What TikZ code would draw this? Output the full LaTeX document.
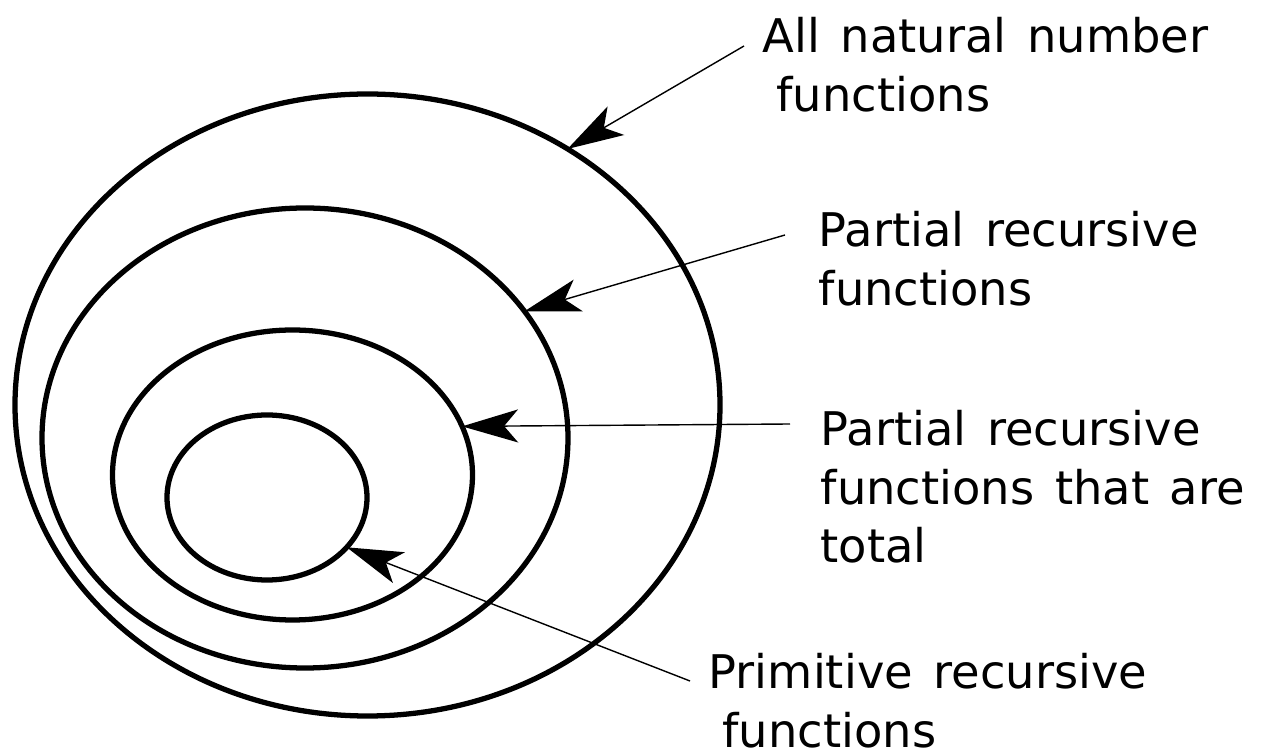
\documentclass[tikz,border=0pt]{standalone}
\usepackage{fontspec}
\setmainfont{DejaVu Sans}[WordSpace=1.4]
\usetikzlibrary{arrows.meta, positioning, shapes.geometric}

\begin{document}
\begin{tikzpicture}[
    set/.style={draw, ellipse, line width=1.5pt, inner sep=0pt, outer sep=0pt},
    note/.style={anchor=north west, align=left, inner sep=0pt,
                 font=\fontsize{13.2}{16.6}\selectfont},
    pointer/.style={-{Stealth[length=0.56cm, width=0.33cm, inset=0.14cm]},
                    line width=0.4pt}
  ]
  \useasboundingbox (0,0) rectangle (12.72,7.56);
  % Nested sets
  \node[set, minimum width=7.05cm, minimum height=6.22cm] (allfn) at (3.675,3.51) {};
  \node[set, minimum width=5.26cm, minimum height=4.6cm] (partrec) at (3.05,3.18) {};
  \node[set, minimum width=3.6cm, minimum height=2.9cm] (totrec) at (2.925,2.81) {};
  \node[set, minimum width=2.0cm, minimum height=1.65cm] (primrec) at (2.67,2.585) {};
  % Labels
  \node[note] (lblall) at (7.62,7.39) {All natural number\\\hspace*{0.3em}functions};
  \node[note] (lblpart) at (8.18,5.45) {Partial recursive\\functions};
  \node[note] (lbltot) at (8.20,3.46) {Partial recursive\\functions that are\\total};
  \node[note] (lblprim) at (7.08,1.03) {Primitive recursive\\\hspace*{0.3em}functions};
  % Pointers
  \coordinate (s1) at (7.44,7.10);
  \coordinate (s2) at (7.85,5.21);
  \coordinate (s3) at (7.90,3.32);
  \coordinate (s4) at (6.90,0.75);
  \draw[pointer] (s1) -- (allfn.52);
  \draw[pointer] (s2) -- (partrec.30);
  \draw[pointer] (s3) -- (totrec.16);
  \draw[pointer] (s4) -- (primrec.-32);
\end{tikzpicture}
\end{document}
